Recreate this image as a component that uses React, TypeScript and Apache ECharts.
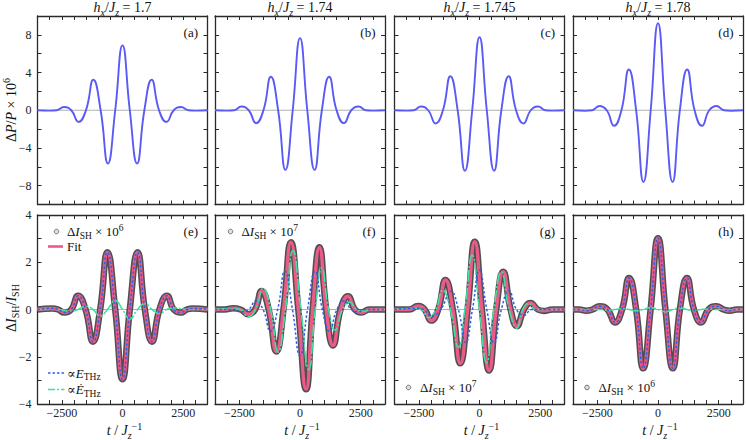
import React, { useEffect, useRef } from 'react';
import * as echarts from 'echarts';

// ---------- axis ranges ----------
const X_MIN = -3500;
const X_MAX = 3500;
const X_LABELS = [-2500, 0, 2500];
const TOP_Y = [-10, 10];
const BOT_Y = [-4, 4];

// ---------- column titles (h_x / J_z) ----------
const hxValues = ['1.7', '1.74', '1.745', '1.78'];
const topLetters = ['(a)', '(b)', '(c)', '(d)'];
const botLetters = ['(e)', '(f)', '(g)', '(h)'];
const dIExponent = ['6', '7', '7', '6'];

// ---------- top row: ΔP/P × 10^6 ----------
const tTop = [-3500, -3000, -2710, -2410, -2110, -1810, -1505, -1200, -900, -600, -300, 0, 300, 600, 900, 1200, 1505, 1810, 2110, 2410, 2710, 3000, 3500];
const pA = [0, -0.04, 0, 0.35, 0, -1.23, 0, 3.23, 0, -5.65, 0, 6.88, 0, -5.65, 0, 3.23, 0, -1.23, 0, 0.35, 0, -0.04, 0];
const pB = [0, -0.04, 0, 0.39, 0, -1.37, 0, 3.55, 0, -6.32, 0, 7.65, 0, -6.32, 0, 3.55, 0, -1.37, 0, 0.39, 0, -0.04, 0];
const pC = [0, -0.04, 0, 0.39, 0, -1.4, 0, 3.61, 0, -6.42, 0, 7.75, 0, -6.42, 0, 3.61, 0, -1.4, 0, 0.39, 0, -0.04, 0];
const pD = [0, -0.05, 0, 0.45, 0, -1.65, 0, 4.32, 0, -7.61, 0, 9.23, 0, -7.61, 0, 4.32, 0, -1.65, 0, 0.45, 0, -0.05, 0];

// ---------- (e) ----------
const tE = [-3500, -2900, -2650, -2400, -2110, -1830, -1520, -1215, -920, -620, -300, 0, 300, 620, 920, 1215, 1520, 1830, 2110, 2400, 2650, 2900, 3500];
const dIE = [0, 0.04, 0, -0.13, 0, 0.58, 0, -1.36, 0, 2.42, 0, -2.95, 0, 2.42, 0, -1.36, 0, 0.58, 0, -0.13, 0, 0.04, 0];
const tEd = [-3500, -2700, -2110, -1830, -1520, -1215, -920, -620, -300, 0, 300, 620, 920, 1215, 1520, 1830, 2110, 2700, 3500];
const edotE = [0, 0, -0.07, 0, 0.14, 0, -0.28, 0, 0.38, 0, -0.4, 0, 0.26, 0, -0.16, 0, 0.07, 0, 0];

// ---------- (f) ----------
const tF = [-3500, -3100, -2760, -2450, -2140, -1850, -1580, -1290, -970, -680, -375, -70, 250, 520, 800, 1080, 1360, 1670, 1976, 2260, 2525, 2850, 3500];
const dIF = [0, 0, 0.05, 0, -0.2, 0, 0.78, 0, -1.78, 0, 2.85, 0, -3.38, 0, 2.63, 0, -1.52, 0, 0.56, 0, -0.13, 0, 0];
const tFb = [-3500, -2700, -2400, -2110, -1820, -1520, -1215, -920, -620, -310, 0, 310, 620, 920, 1215, 1520, 1830, 2110, 2400, 2700, 3500];
const eF = [0, 0, -0.1, 0, 0.36, 0, -0.92, 0, 1.62, 0, -1.95, 0, 1.62, 0, -0.92, 0, 0.37, 0, -0.1, 0, 0];
const tFg = [-3500, -2700, -2450, -2140, -1830, -1520, -1210, -900, -600, -290, 35, 360, 630, 900, 1175, 1450, 1750, 2050, 2330, 2600, 3000, 3500];
const edotF = [0, 0.03, 0, -0.31, 0, 0.89, 0, -1.8, 0, 2.5, 0, -2.55, 0, 1.76, 0, -0.88, 0, 0.32, 0, -0.07, 0, 0];

// ---------- (g) ----------
const tG = [-3500, -2900, -2530, -2260, -1990, -1700, -1400, -1100, -790, -490, -195, 100, 395, 690, 975, 1280, 1540, 1830, 2100, 2400, 2650, 3000, 3500];
const dIG = [0, 0, 0.15, 0, -0.47, 0, 1.25, 0, -2.28, 0, 2.87, 0, -2.58, 0, 1.6, 0, -0.7, 0, 0.28, 0, -0.06, 0, 0];
const tGb = [-3500, -2600, -2300, -2000, -1600, -1180, -870, -570, -290, -8, 300, 600, 900, 1215, 1520, 1830, 2150, 2500, 3500];
const eG = [0, 0.05, 0, -0.28, 0, 0.77, 0, -1.4, 0, 1.67, 0, -1.42, 0, 0.79, 0, -0.25, 0, 0, 0];
const tGg = [-3500, -2700, -2400, -2100, -1800, -1520, -1200, -870, -600, -300, 0, 290, 590, 900, 1220, 1540, 1780, 2020, 2300, 2600, 3500];
const edotG = [0, 0.05, 0, -0.34, 0, 0.82, 0, -1.6, 0, 2.3, 0, -2.25, 0, 1.6, 0, -0.79, 0, 0.26, 0, 0, 0];

// ---------- (h) ----------
const tH = [-3500, -3250, -2950, -2700, -2400, -2080, -1770, -1480, -1190, -900, -610, -305, 0, 305, 610, 900, 1190, 1480, 1770, 2080, 2400, 2700, 2950, 3250, 3500];
const dIH = [0, 0, -0.05, 0, 0.14, 0, -0.55, 0, 1.33, 0, -2.49, 0, 3.02, 0, -2.49, 0, 1.33, 0, -0.55, 0, 0.14, 0, -0.05, 0, 0];
const tHg = [-3500, -2400, -2080, -1770, -1480, -1190, -900, -610, -305, 0, 305, 610, 900, 1190, 1480, 1770, 2080, 2400, 3500];
const edotH = [0, 0, -0.02, 0, 0.04, 0, -0.06, 0, 0.08, 0, -0.09, 0, 0.07, 0, -0.04, 0, 0.02, 0, 0];

// ---------- styling / layout ----------
const SERIF = "'Liberation Serif', 'Times New Roman', 'DejaVu Serif', serif";
const FRAME = '#2a2a2a';
const C_TOP = '#5a5af6';
const C_BAND = '#505050';
const C_FIT = '#ec5a88';
const C_E = '#2f5fe8';
const C_ED = '#3fe0a0';
const C_ZERO = '#b0b0b0';
const GRID_LEFT = [37.5, 215, 394.5, 573];
const GRID_W = 170;
const ROW_TOP = [16, 215];
const ROW_H = [188.5, 189];

const pts = (ts: number[], vs: number[]) => ts.map((t, i) => [t, vs[i]]);
const fmt = (v: number) => (v < 0 ? '\u2212' + Math.abs(v) : String(v));

function buildOption() {
  const grids: any[] = [];
  const xAxes: any[] = [];
  const yAxes: any[] = [];
  const series: any[] = [];
  const graphic: any[] = [];

  for (let g = 0; g < 8; g++) {
    const row = g < 4 ? 0 : 1;
    const col = g % 4;
    grids.push({ left: GRID_LEFT[col], top: ROW_TOP[row], width: GRID_W, height: ROW_H[row] });
    const lineStyle = { color: FRAME, width: 1.3 };
    const tick = { show: true, inside: true, length: 4, lineStyle: { color: FRAME, width: 1 } };
    const lbl = { color: '#222', fontSize: 12, fontFamily: SERIF };
    for (const pos of ['bottom', 'top']) {
      xAxes.push({
        type: 'value', gridIndex: g, min: X_MIN, max: X_MAX, interval: 500, position: pos,
        axisLine: { show: true, onZero: false, lineStyle },
        axisTick: tick,
        axisLabel: {
          show: pos === 'bottom' && row === 1, margin: 3, ...lbl,
          formatter: (v: number) => (X_LABELS.includes(v) ? fmt(v) : ''),
        },
        splitLine: { show: false },
      });
    }
    for (const pos of ['left', 'right']) {
      yAxes.push({
        type: 'value', gridIndex: g, position: pos,
        min: row === 0 ? TOP_Y[0] : BOT_Y[0], max: row === 0 ? TOP_Y[1] : BOT_Y[1],
        interval: row === 0 ? 2 : 1,
        axisLine: { show: true, onZero: false, lineStyle },
        axisTick: tick,
        axisLabel: {
          show: pos === 'left' && col === 0, margin: 6, ...lbl,
          formatter: (v: number) =>
            row === 0 ? (v % 4 === 0 && Math.abs(v) < 10 ? fmt(v) : '') : (v % 2 === 0 ? fmt(v) : ''),
        },
        splitLine: { show: false },
      });
    }
    // zero reference line
    series.push({
      type: 'line', xAxisIndex: 2 * g, yAxisIndex: 2 * g, data: [[X_MIN, 0], [X_MAX, 0]],
      symbol: 'none', lineStyle: { color: C_ZERO, width: 1.2 }, silent: true, z: 1,
    });
  }

  const topData = [pA, pB, pC, pD];
  topData.forEach((vals, c) => {
    series.push({
      type: 'line', xAxisIndex: 2 * c, yAxisIndex: 2 * c, data: pts(tTop, vals), smooth: true,
      symbol: 'none', lineStyle: { color: C_TOP, width: 1.9 }, z: 3,
    });
  });

  const bottom = [
    { t: tE, dI: dIE, tb: tE, e: dIE, tg: tEd, ed: edotE },
    { t: tF, dI: dIF, tb: tFb, e: eF, tg: tFg, ed: edotF },
    { t: tG, dI: dIG, tb: tGb, e: eG, tg: tGg, ed: edotG },
    { t: tH, dI: dIH, tb: tH, e: dIH, tg: tHg, ed: edotH },
  ];
  bottom.forEach((p, c) => {
    const g = 4 + c;
    const ax = { xAxisIndex: 2 * g, yAxisIndex: 2 * g, symbol: 'none', smooth: true };
    series.push({ type: 'line', ...ax, data: pts(p.t, p.dI), lineStyle: { color: C_BAND, width: 6.5 }, z: 2 });
    series.push({ type: 'line', ...ax, data: pts(p.t, p.dI), lineStyle: { color: C_FIT, width: 3.4 }, z: 3 });
    series.push({ type: 'line', ...ax, data: pts(p.tg, p.ed), lineStyle: { color: C_ED, width: 1.6, type: [12, 2, 2, 2] }, z: 4 });
    series.push({ type: 'line', ...ax, data: pts(p.tb, p.e), lineStyle: { color: C_E, width: 1.5, type: [2.5, 2] }, z: 5 });
  });

  // ---------- texts ----------
  const mk = (fs: number, lh: number, sfs: number) => ({
    n: { fontFamily: SERIF, fontSize: fs, lineHeight: lh },
    i: { fontFamily: SERIF, fontSize: fs, lineHeight: lh, fontStyle: 'italic' },
    s: { fontFamily: SERIF, fontSize: sfs, lineHeight: sfs + 1, verticalAlign: 'bottom' },
    si: { fontFamily: SERIF, fontSize: sfs, lineHeight: sfs + 1, verticalAlign: 'bottom', fontStyle: 'italic' },
    p: { fontFamily: SERIF, fontSize: sfs, lineHeight: sfs + 1, verticalAlign: 'top' },
  });
  const rich = mk(13, 18, 9.5);
  const rich14 = mk(14, 19, 10);
  const txt = (x: number, y: number, text: string, align = 'left', r: any = rich, extra: any = {}) => ({
    type: 'text', x, y, silent: true, ...extra,
    style: {
      text, rich: r, fill: '#111', fontFamily: SERIF, fontSize: 13,
      align, textAlign: align, verticalAlign: 'middle', textVerticalAlign: 'middle',
    },
  });

  for (let c = 0; c < 4; c++) {
    const cx = GRID_LEFT[c] + GRID_W / 2;
    const right = GRID_LEFT[c] + GRID_W;
    graphic.push(txt(cx, 7.5, `{i|h}{si|x}{n|/}{i|J}{si|z}{n| = ${hxValues[c]}}`, 'center', rich14));
    graphic.push(txt(right - 9.5, 32.5, `{n|${topLetters[c]}}`, 'right'));
    graphic.push(txt(right - 9.5, 231.5, `{n|${botLetters[c]}}`, 'right'));
    // x-axis title t / J_z^-1
    graphic.push(txt(cx + 2, 430.5, '{i|t}{n| / }{i|J}{si|z}{p|\u22121}', 'center', rich14));
  }

  // y-axis titles (rotated)
  graphic.push(txt(11, 110, '{n|\u0394}{i|P}{n|/}{i|P}{n| \u00d7 10}{p|6}', 'center', rich14, { rotation: Math.PI / 2 }));
  graphic.push(txt(11, 308, '{n|\u0394}{i|I}{s|SH}{n|/}{i|I}{s|SH}', 'center', rich14, { rotation: Math.PI / 2 }));

  // legends
  const circ = (cx: number, cy: number) => ({
    type: 'circle', shape: { cx, cy, r: 2.3 }, silent: true,
    style: { fill: '#ddd', stroke: '#666', lineWidth: 0.9 },
  });
  const leg = (x1: number, x2: number, y: number, stroke: string, lineWidth: number, lineDash?: number[]) => ({
    type: 'line', shape: { x1, y1: y, x2, y2: y }, silent: true,
    style: { stroke, lineWidth, lineDash },
  });
  const dILabel = (exp: string) => `{n|\u0394}{i|I}{s|SH}{n| \u00d7 10}{p|${exp}}`;
  graphic.push(circ(56.5, 231.5), txt(67, 231.5, dILabel(dIExponent[0])));
  graphic.push(leg(48, 63, 246.5, C_FIT, 2.6), txt(67, 246.5, '{n|Fit}'));
  graphic.push(leg(48, 64.5, 373, C_E, 1.5, [2.5, 2]), txt(67, 373, '{n|\u221d}{i|E}{s|THz}'));
  graphic.push(leg(48, 64.5, 389.5, C_ED, 1.6, [7, 2, 2, 2]), txt(67, 389.5, '{n|\u221d}{i|\u0116}{s|THz}'));
  graphic.push(circ(230.5, 231.5), txt(241.5, 231.5, dILabel(dIExponent[1])));
  graphic.push(circ(408.5, 387.5), txt(420, 387.5, dILabel(dIExponent[2])));
  graphic.push(circ(587, 387.5), txt(598.5, 387.5, dILabel(dIExponent[3])));

  return {
    animation: false,
    backgroundColor: '#fff',
    grid: grids,
    xAxis: xAxes,
    yAxis: yAxes,
    series,
    graphic: { elements: graphic },
  };
}

export default function App() {
  const ref = useRef<HTMLDivElement>(null);
  useEffect(() => {
    const chart = echarts.init(ref.current!, undefined, { renderer: 'svg' });
    chart.setOption(buildOption());
    return () => chart.dispose();
  }, []);
  return <div ref={ref} style={{ width: 746, height: 440, position: 'absolute', left: 0, top: 0 }} />;
}
